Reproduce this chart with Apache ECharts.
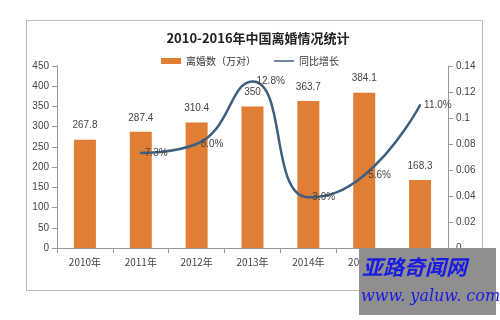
<!DOCTYPE html>
<html><head><meta charset="utf-8">
<script src="https://cdn.jsdelivr.net/npm/echarts@6/dist/echarts.min.js"></script>
<style>html,body{margin:0;padding:0;background:#fff}#c{width:500px;height:320px}</style>
</head><body><div id="c"></div>
<script>
const categories = ['2010年','2011年','2012年','2013年','2014年','2015年','2016年'];
const divorces = [267.8, 287.4, 310.4, 350, 363.7, 384.1, 168.3];
const growth = [null, 0.073, 0.080, 0.128, 0.039, 0.056, 0.110];
const growthLabels = ['', '7.3%', '8.0%', '12.8%', '3.9%', '5.6%', '11.0%'];

const chart = echarts.init(document.getElementById('c'));
chart.setOption({
  animation: false,
  title: {
    text: '2010-2016年中国离婚情况统计',
    left: 253, textAlign: 'center', top: 27,
    textStyle: {fontSize: 13, fontWeight: 'bold', color: '#222', fontFamily: 'Noto Sans CJK SC'}
  },
  legend: {
    top: 51, left: 'center',
    itemWidth: 20, itemHeight: 6, itemGap: 18,
    textStyle: {fontSize: 10, color: '#333', fontFamily: 'Noto Sans CJK SC'},
    data: [{name: '离婚数（万对）', icon: 'rect'}, {name: '同比增长', icon: 'path://M0,0 L20,0 L20,1.5 L0,1.5 Z'}]
  },
  grid: {left: 57, right: 52, top: 66, bottom: 72},
  xAxis: {
    type: 'category', data: categories,
    axisLine: {lineStyle: {color: '#999'}},
    axisTick: {show: true, lineStyle: {color: '#999'}},
    axisLabel: {fontSize: 10, color: '#444', margin: 9, fontFamily: 'Noto Sans CJK SC'}
  },
  yAxis: [{
    type: 'value', min: 0, max: 450, interval: 50,
    axisLine: {show: true, lineStyle: {color: '#999'}},
    axisTick: {show: true, lineStyle: {color: '#999'}},
    splitLine: {show: false},
    axisLabel: {fontSize: 10, color: '#444', margin: 8}
  }, {
    type: 'value', min: 0, max: 0.14, interval: 0.02,
    axisLine: {show: true, lineStyle: {color: '#999'}},
    axisTick: {show: true, lineStyle: {color: '#999'}},
    splitLine: {show: false},
    axisLabel: {fontSize: 10, color: '#444', margin: 8, formatter: v => String(+v.toFixed(2))}
  }],
  series: [{
    name: '离婚数（万对）', type: 'bar', data: divorces, barWidth: 22,
    itemStyle: {color: '#e07e35'},
    label: {show: true, position: 'top', fontSize: 10, color: '#444', distance: 9}
  }, {
    name: '同比增长', type: 'line', yAxisIndex: 1, data: growth, smooth: 0.5,
    showSymbol: true, symbol: 'circle', symbolSize: 2,
    lineStyle: {color: '#3f5f80', width: 2.5},
    itemStyle: {color: '#3f5f80'},
    label: {show: true, position: 'right', fontSize: 10, color: '#444', distance: 3,
      formatter: p => growthLabels[p.dataIndex]}
  }],
  graphic: [
    {type: 'rect', z: -1, shape: {x: 26.5, y: 20.5, width: 456, height: 270}, style: {fill: 'none', stroke: '#bbb', lineWidth: 1}},
    {type: 'rect', z: 100, shape: {x: 359, y: 248, width: 137, height: 67}, style: {fill: '#8f8f8f'}},
    {type: 'text', z: 101, left: 362, top: 257, style: {text: '亚路奇闻网', fill: '#1a1ae6', font: 'italic bold 21px "Noto Sans CJK SC"'}},
    {type: 'text', z: 101, left: 361, top: 289, style: {text: 'www. yaluw. com', fill: '#1a1ae6', font: 'italic 16px "DejaVu Serif"'}}
  ]
});
</script></body></html>
